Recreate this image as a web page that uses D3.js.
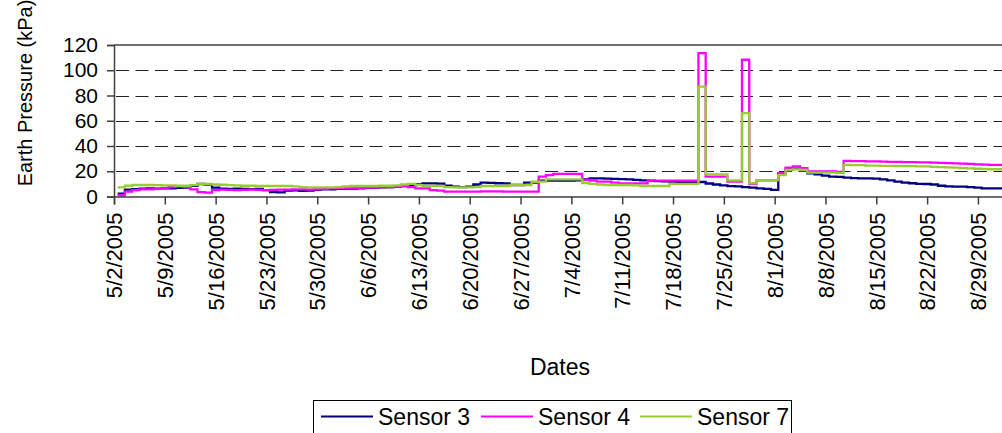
<!DOCTYPE html>
<html>
<head>
<meta charset="utf-8">
<script src="https://cdn.jsdelivr.net/npm/d3@7/dist/d3.min.js"></script>
<style>
body { margin: 0; background: #fff; }
svg { display: block; font-family: Arial, "Liberation Sans", sans-serif; }
</style>
</head>
<body>
<svg width="1002" height="433"></svg>
<script>
// daily readings (last reading of the day), 5/2/2005 .. 9/1/2005, one row per week
var firstDay = "5/2/2005";
var sensor3 = [
  2.2, 5.5, 5.8, 6.2, 6.5, 6.2, 6.5,
  6.5, 6.8, 7.0, 8.5, 9.9, 9.5, 7.0,
  6.2, 6.0, 6.3, 6.0, 5.8, 6.0, 5.0,
  3.5, 3.2, 4.6, 4.8, 4.5, 4.6, 5.2,
  5.7, 5.7, 6.0, 6.0, 6.2, 6.5, 6.8,
  7.0, 7.2, 7.5, 7.8, 8.3, 8.5, 9.5,
  10.4, 10.4, 10.2, 8.5, 7.9, 7.5, 7.9,
  9.5, 11.0, 10.8, 10.5, 10.4, 9.1, 9.1,
  11.0, 11.0, 12.5, 12.5, 12.5, 12.5, 12.5,
  12.8, 13.5, 14.4, 14.4, 14.2, 14.0, 13.8,
  13.5, 13.2, 12.8, 12.5, 12.2, 12.0, 11.8,
  11.5, 11.5, 11.5, 11.5, 10.3, 9.5, 8.8,
  8.2, 8.0, 7.5, 7.0, 6.5, 6.0, 5.2,
  18.4, 21.5, 22.0, 21.0, 18.4, 17.5, 16.5,
  15.7, 15.5, 15.0, 14.5, 14.4, 14.4, 14.2,
  13.5, 12.8, 11.8, 11.0, 10.5, 10.0, 9.9,
  9.5, 8.5, 8.0, 7.8, 7.8, 7.5, 7.0,
  6.5, 6.5, 6.5, 6.6
];
var sensor4 = [
  1.0, 3.9, 5.0, 5.7, 5.7, 6.0, 6.5,
  7.5, 8.0, 7.5, 5.7, 3.5, 3.0, 5.0,
  5.5, 5.2, 5.0, 5.2, 5.5, 5.2, 5.0,
  5.2, 5.5, 5.5, 5.7, 5.7, 5.5, 5.7,
  6.0, 6.5, 6.5, 6.5, 6.8, 6.8, 7.0,
  7.2, 7.5, 7.5, 8.0, 8.3, 7.5, 6.5,
  6.5, 5.0, 4.6, 3.8, 3.8, 3.8, 3.8,
  3.8, 4.0, 4.0, 4.0, 3.8, 3.8, 3.8,
  3.8, 3.8, 15.7, 17.0, 17.9, 17.9, 17.9,
  17.9, 13.1, 12.5, 11.8, 11.8, 11.0, 10.4,
  10.4, 10.4, 10.4, 12.5, 12.5, 12.5, 12.5,
  12.5, 12.5, 12.5, 113.6, 15.7, 15.7, 15.7,
  11.8, 11.8, 108.3, 9.9, 12.7, 12.7, 12.7,
  18.4, 22.9, 23.8, 22.5, 19.9, 19.9, 19.9,
  19.9, 19.5, 28.2, 28.0, 28.0, 27.8, 27.8,
  27.6, 27.5, 27.5, 27.3, 27.2, 27.0, 27.0,
  26.8, 26.6, 26.5, 26.3, 26.0, 25.8, 25.5,
  25.2, 25.0, 25.0, 25.0
];
var sensor7 = [
  7.3, 8.5, 9.1, 9.1, 9.1, 9.0, 8.8,
  8.8, 8.5, 8.5, 9.0, 9.9, 9.9, 9.5,
  9.3, 9.0, 8.8, 8.5, 8.5, 8.3, 8.3,
  8.3, 8.3, 8.3, 8.0, 7.5, 7.3, 7.3,
  7.3, 7.3, 7.5, 8.0, 8.3, 8.3, 8.3,
  8.3, 8.5, 8.5, 8.8, 9.5, 10.0, 9.0,
  8.3, 8.3, 8.3, 7.5, 7.3, 7.3, 7.3,
  7.5, 8.3, 8.3, 8.3, 8.3, 9.1, 9.1,
  9.1, 11.7, 11.8, 13.6, 13.6, 13.6, 13.6,
  13.6, 10.6, 10.0, 9.5, 9.1, 9.1, 9.1,
  9.1, 8.8, 8.3, 8.3, 8.3, 8.3, 10.0,
  10.0, 10.0, 10.0, 87.1, 17.6, 17.6, 17.6,
  12.7, 12.7, 66.0, 10.5, 13.0, 13.0, 13.0,
  17.0, 21.0, 21.5, 21.0, 18.9, 18.9, 18.9,
  18.9, 18.5, 25.0, 24.8, 24.8, 24.5, 24.5,
  24.3, 24.3, 24.0, 24.0, 24.0, 23.8, 23.8,
  23.5, 23.3, 23.0, 22.8, 22.5, 22.2, 22.0,
  21.8, 21.6, 21.6, 21.6
];
var seriesNames = ["Sensor 3", "Sensor 4", "Sensor 7"];
var seriesColors = ["#000080", "#FF00FF", "#99CC33"];
var yTicks = [0, 20, 40, 60, 80, 100, 120];

var svg = d3.select("svg"),
  width = +svg.attr("width"),
  height = +svg.attr("height");

var parseDate = d3.timeParse("%m/%d/%Y");
var day0 = parseDate(firstDay);
var fmt = function (d) { return (d.getMonth() + 1) + "/" + d.getDate() + "/" + d.getFullYear(); };

var plotLeft = 114, plotTop = 45, plotBottom = 196.5, dayW = 7.26;

var x = d3.scaleTime()
  .domain([day0, d3.timeDay.offset(day0, 124)])
  .range([plotLeft, plotLeft + 124 * dayW]);
var y = d3.scaleLinear().domain([0, 120]).range([plotBottom, plotTop]);

// dashed gridlines
svg.append("g").selectAll("line")
  .data(yTicks.filter(function (t) { return t > 0 && t < 120; }))
  .enter().append("line")
  .attr("x1", plotLeft).attr("x2", width)
  .attr("y1", function (d) { return Math.round(y(d)) + 0.5; })
  .attr("y2", function (d) { return Math.round(y(d)) + 0.5; })
  .attr("stroke", "#222")
  .attr("stroke-width", 1)
  .attr("stroke-dasharray", "13,6.5")
  .attr("stroke-dashoffset", -2);

// top frame
svg.append("line")
  .attr("x1", plotLeft).attr("x2", width)
  .attr("y1", y(120)).attr("y2", y(120))
  .attr("stroke", "#404040").attr("stroke-width", 1.5);

// series
var line = d3.line()
  .curve(d3.curveStepAfter)
  .x(function (d, i) { return x(d3.timeHour.offset(d3.timeDay.offset(day0, i), 12)); })
  .y(function (d) { return y(d); });

[sensor3, sensor4, sensor7].forEach(function (s, k) {
  svg.append("path")
    .datum(s)
    .attr("d", line)
    .attr("fill", "none")
    .attr("stroke", seriesColors[k])
    .attr("stroke-width", 2.3);
});

// y axis
var yAxis = svg.append("g")
  .attr("transform", "translate(" + plotLeft + ",0)")
  .call(d3.axisLeft(y).tickValues(yTicks).tickSize(7).tickPadding(9));
yAxis.select(".domain").attr("stroke", "#404040").attr("stroke-width", 1.5);
yAxis.selectAll(".tick line").attr("stroke", "#404040").attr("stroke-width", 1.5);
yAxis.selectAll("text").attr("font-size", 21).attr("fill", "#000")
  .attr("font-family", "Arial, 'Liberation Sans', sans-serif");

// x axis
var xAxis = svg.append("g")
  .attr("transform", "translate(0," + plotBottom + ")")
  .call(d3.axisBottom(x).ticks(d3.timeMonday.every(1)).tickFormat(fmt).tickSize(8));
xAxis.select(".domain").attr("stroke", "#404040").attr("stroke-width", 1.5);
xAxis.selectAll(".tick line").attr("stroke", "#404040").attr("stroke-width", 1.5);
xAxis.selectAll("text")
  .attr("font-size", 22).attr("fill", "#000")
  .attr("font-family", "Arial, 'Liberation Sans', sans-serif")
  .attr("text-anchor", "end")
  .attr("transform", "rotate(-90)")
  .attr("x", -16).attr("y", 0).attr("dy", "0.35em");

// axis titles
svg.append("text")
  .attr("transform", "translate(32,93) rotate(-90)")
  .attr("text-anchor", "middle")
  .attr("font-size", 20)
  .text("Earth Pressure (kPa)");

svg.append("text")
  .attr("x", 560).attr("y", 375)
  .attr("text-anchor", "middle")
  .attr("font-size", 23)
  .text("Dates");

// legend
var legend = svg.append("g");
legend.append("rect")
  .attr("x", 313.5).attr("y", 400.5)
  .attr("width", 478).attr("height", 50)
  .attr("fill", "#fff").attr("stroke", "#000").attr("stroke-width", 1);
var legX = [321, 481, 640];
seriesNames.forEach(function (name, k) {
  legend.append("line")
    .attr("x1", legX[k]).attr("x2", legX[k] + 52)
    .attr("y1", 416.5).attr("y2", 416.5)
    .attr("stroke", seriesColors[k]).attr("stroke-width", 2);
  legend.append("text")
    .attr("x", legX[k] + 57).attr("y", 425)
    .attr("font-size", 23)
    .text(name);
});
</script>
</body>
</html>
